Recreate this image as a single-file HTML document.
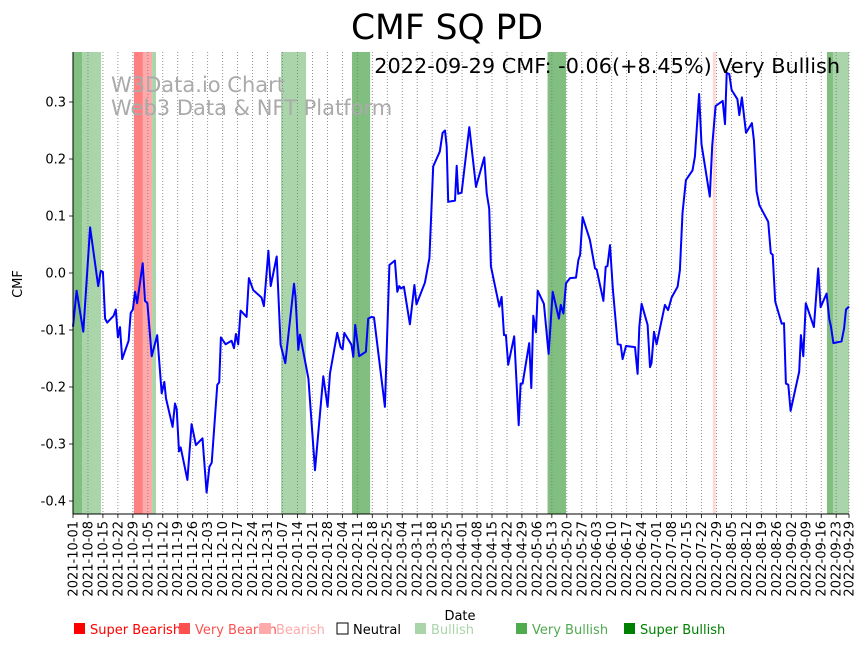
<!DOCTYPE html>
<html><head><meta charset="utf-8"><style>
body{margin:0;background:#fff;width:867px;height:646px;overflow:hidden;font-family:"Liberation Sans","DejaVu Sans",sans-serif}
svg text{font-family:"DejaVu Sans","Liberation Sans",sans-serif}
</style></head><body>
<svg id="chart" width="867" height="646" xmlns="http://www.w3.org/2000/svg"></svg>
<script>
const startDate = new Date(Date.UTC(2021, 9, 1));
const yTicks = [-0.4, -0.3, -0.2, -0.1, 0.0, 0.1, 0.2, 0.3];
const days = [0,1.7,4.8,8,11.8,13,14,15,16,19,20,21,22,23,26,27,28,29,30,32.6,33.7,34.8,36.8,39.4,41.5,42.7,43.5,46.6,47.7,48.5,49.6,50.4,53.5,55.5,57.5,60.6,62.5,63.8,64.9,67.5,68.4,69.2,71.4,74.2,75.3,76.2,77.3,78.4,81.2,82.3,84.3,88.2,89.3,91.4,92.5,95.3,97.1,99.3,103.4,104.1,105.4,106.2,110.1,113.2,117.1,119.1,120.2,123.6,125.2,126.1,126.9,130.3,131.1,132,133.9,137,138.1,139.7,140.8,145.9,148,150.6,151.7,152.6,153.4,154.8,157.6,159.7,160.7,164.6,166.7,168.5,171.6,172.9,174,174.8,175.5,178.7,179.5,180.2,181.8,185.4,188.5,192.4,193.5,194.7,195.5,199.4,200.5,201.6,202.5,203.6,206.4,208.5,209.4,210.3,213.4,214.4,215.3,216.6,217.4,220.3,222.5,224.4,227.3,228.2,229.4,230.6,232.5,235.3,236.4,237.2,238.4,241.8,244.2,245,248.1,249.2,250,251.2,252.5,254.8,256.2,257.1,258.7,262.9,264.1,264.9,266,268.8,269.9,270.6,271.8,273,276.9,278.4,280,282.8,283.9,285.1,286.7,289.8,290.9,292.9,294,297.9,299,300.6,303.9,305,305.8,307,308.1,310.8,311.7,312.9,314.8,317.6,318.5,319.8,321.1,325.2,326.4,327.3,328.5,331.5,332.6,333.5,334.6,335.7,339.7,340.5,341.6,342.8,346.6,348.6,349.7,352.5,353.8,354.6,355.7,359.5,360.7,361.6,363];
const cmfValues = [-0.094,-0.031,-0.103,0.080,-0.023,0.004,0.002,-0.080,-0.087,-0.075,-0.064,-0.113,-0.095,-0.151,-0.119,-0.070,-0.064,-0.033,-0.053,0.017,-0.049,-0.053,-0.146,-0.109,-0.211,-0.191,-0.220,-0.270,-0.229,-0.239,-0.313,-0.306,-0.363,-0.265,-0.302,-0.290,-0.385,-0.340,-0.333,-0.196,-0.192,-0.113,-0.125,-0.119,-0.132,-0.107,-0.125,-0.066,-0.077,-0.009,-0.030,-0.043,-0.058,0.039,-0.023,0.029,-0.126,-0.158,-0.019,-0.042,-0.135,-0.108,-0.185,-0.346,-0.181,-0.235,-0.176,-0.105,-0.130,-0.134,-0.105,-0.126,-0.147,-0.091,-0.146,-0.138,-0.080,-0.077,-0.078,-0.235,0.014,0.022,-0.033,-0.023,-0.027,-0.024,-0.090,-0.021,-0.055,-0.017,0.026,0.187,0.213,0.246,0.250,0.222,0.125,0.127,0.188,0.139,0.141,0.256,0.151,0.203,0.140,0.113,0.012,-0.059,-0.042,-0.109,-0.109,-0.161,-0.111,-0.267,-0.194,-0.194,-0.123,-0.202,-0.075,-0.104,-0.031,-0.054,-0.142,-0.033,-0.080,-0.056,-0.071,-0.018,-0.009,-0.008,0.023,0.032,0.098,0.058,0.008,0.006,-0.049,0.011,0.012,0.049,-0.027,-0.125,-0.126,-0.151,-0.128,-0.130,-0.177,-0.095,-0.054,-0.091,-0.165,-0.158,-0.103,-0.125,-0.056,-0.065,-0.043,-0.024,0.005,0.105,0.163,0.180,0.204,0.314,0.226,0.134,0.223,0.293,0.302,0.261,0.351,0.349,0.321,0.305,0.277,0.308,0.246,0.263,0.233,0.143,0.119,0.090,0.035,0.032,-0.050,-0.089,-0.088,-0.194,-0.196,-0.242,-0.173,-0.109,-0.146,-0.053,-0.095,0.008,-0.060,-0.036,-0.081,-0.094,-0.123,-0.120,-0.097,-0.064,-0.059];
const bandStart = [0,4.2,28.5,32.7,37,97.3,130.5,222,299.3,352.7,355.5];
const bandEnd = [4.2,13.1,32.7,37,38.8,109,139,230.6,300.7,355.5,363];
const bandLevel = ['very-bullish','bullish','super-bearish','very-bearish','bullish','bullish','very-bullish','very-bullish','bearish','very-bullish','bullish'];

const svg = document.getElementById('chart');
const NS = 'http://www.w3.org/2000/svg';
const X0 = 73, X1 = 849, Y0 = 52, Y1 = 514, D = 363;
const xs = d => X0 + d * (X1 - X0) / D;
const ys = v => 273 - v * 570;
const bandColor = {'super-bearish':'#ff8080','very-bearish':'#ffaaaa','bearish':'#fddada','bullish':'#aad4aa','very-bullish':'#80bf80'};
function mk(tag, attrs, parent) { const e = document.createElementNS(NS, tag); for (const k in attrs) e.setAttribute(k, attrs[k]); (parent || svg).appendChild(e); return e; }

for (let i = 0; i < bandStart.length; i++) {
  const r = mk('rect', {x: xs(bandStart[i]), y: Y0, width: xs(bandEnd[i]) - xs(bandStart[i]), height: Y1 - Y0, fill: bandColor[bandLevel[i]]});
  
  
}
const tickDays = [];
for (let d = 0; d <= 357; d += 7) tickDays.push(d);
tickDays.push(363);
function fmt(d) { const t = new Date(startDate.getTime() + d * 86400000); return t.toISOString().slice(0, 10); }
tickDays.forEach(d => {
  const x = xs(d);
  const g = mk('line', {x1: x, x2: x, y1: Y0, y2: Y1, stroke: '#777', 'stroke-width': 0.8, 'stroke-dasharray': '1,2'});
  
  
  mk('line', {x1: x, x2: x, y1: Y1, y2: Y1 + 4, stroke: '#000', 'stroke-width': 0.8});
  const t = mk('text', {x: 0, y: 0, 'font-size': 13, 'text-anchor': 'end', transform: `translate(${x + 4.5},${Y1 + 7}) rotate(-90)`});
  t.textContent = fmt(d);
  
  
});
yTicks.forEach(v => {
  const y = ys(v);
  mk('line', {x1: X0 - 4, x2: X0, y1: y, y2: y, stroke: '#000', 'stroke-width': 0.8});
  const t = mk('text', {x: X0 - 7, y: y + 4.5, 'font-size': 13, 'text-anchor': 'end'});
  t.textContent = v.toFixed(1);
  
  
});
const pts = days.map((d, i) => xs(d).toFixed(1) + ',' + ys(cmfValues[i]).toFixed(1)).join(' ');
const line = mk('polyline', {points: pts, fill: 'none', stroke: '#0000ff', 'stroke-width': 2, 'stroke-linejoin': 'round'});


mk('line', {x1: X0, x2: X0, y1: Y0, y2: Y1, stroke: '#000', 'stroke-width': 1});
mk('line', {x1: X0, x2: X1, y1: Y1, y2: Y1, stroke: '#000', 'stroke-width': 1});

function txt(s, a, name) { const t = mk('text', a); t.textContent = s;   return t; }
txt('CMF SQ PD', {x: 447, y: 39, 'font-size': 34.5, 'text-anchor': 'middle'}, 'chart-title');
txt('2022-09-29 CMF: -0.06(+8.45%) Very Bullish', {x: 840, y: 73, 'font-size': 20.8, 'text-anchor': 'end'}, 'latest-value-annotation');
txt('W3Data.io Chart', {x: 111, y: 92, 'font-size': 21, fill: '#aaa'}, 'watermark-line-1');
txt('Web3 Data & NFT Platform', {x: 111, y: 115, 'font-size': 21, fill: '#aaa'}, 'watermark-line-2');
txt('Date', {x: 460, y: 620, 'font-size': 13, 'text-anchor': 'middle'}, 'x-axis-title');
txt('CMF', {x: 0, y: 0, 'font-size': 13, 'text-anchor': 'middle', transform: 'translate(22,284) rotate(-90)'}, 'y-axis-title');

const legendLabels = ['Super Bearish','Very Bearish','Bearish','Neutral','Bullish','Very Bullish','Super Bullish'];
const legendColors = ['#ff0000','#ff5050','#ffaaaa','none','#aad4aa','#50aa50','#008000'];
const legendX = [74,179,260,337,415,516,624];
legendLabels.forEach((l, i) => {
  const r = mk('rect', {x: legendX[i], y: 623, width: 11, height: 11, fill: legendColors[i] === 'none' ? '#fff' : legendColors[i], stroke: legendColors[i] === 'none' ? '#000' : 'none'});
  
  
  txt(l, {x: legendX[i] + 16, y: 634, 'font-size': 13, fill: legendColors[i] === 'none' ? '#000' : legendColors[i]}, 'legend-entry');
});
</script>
</body></html>
